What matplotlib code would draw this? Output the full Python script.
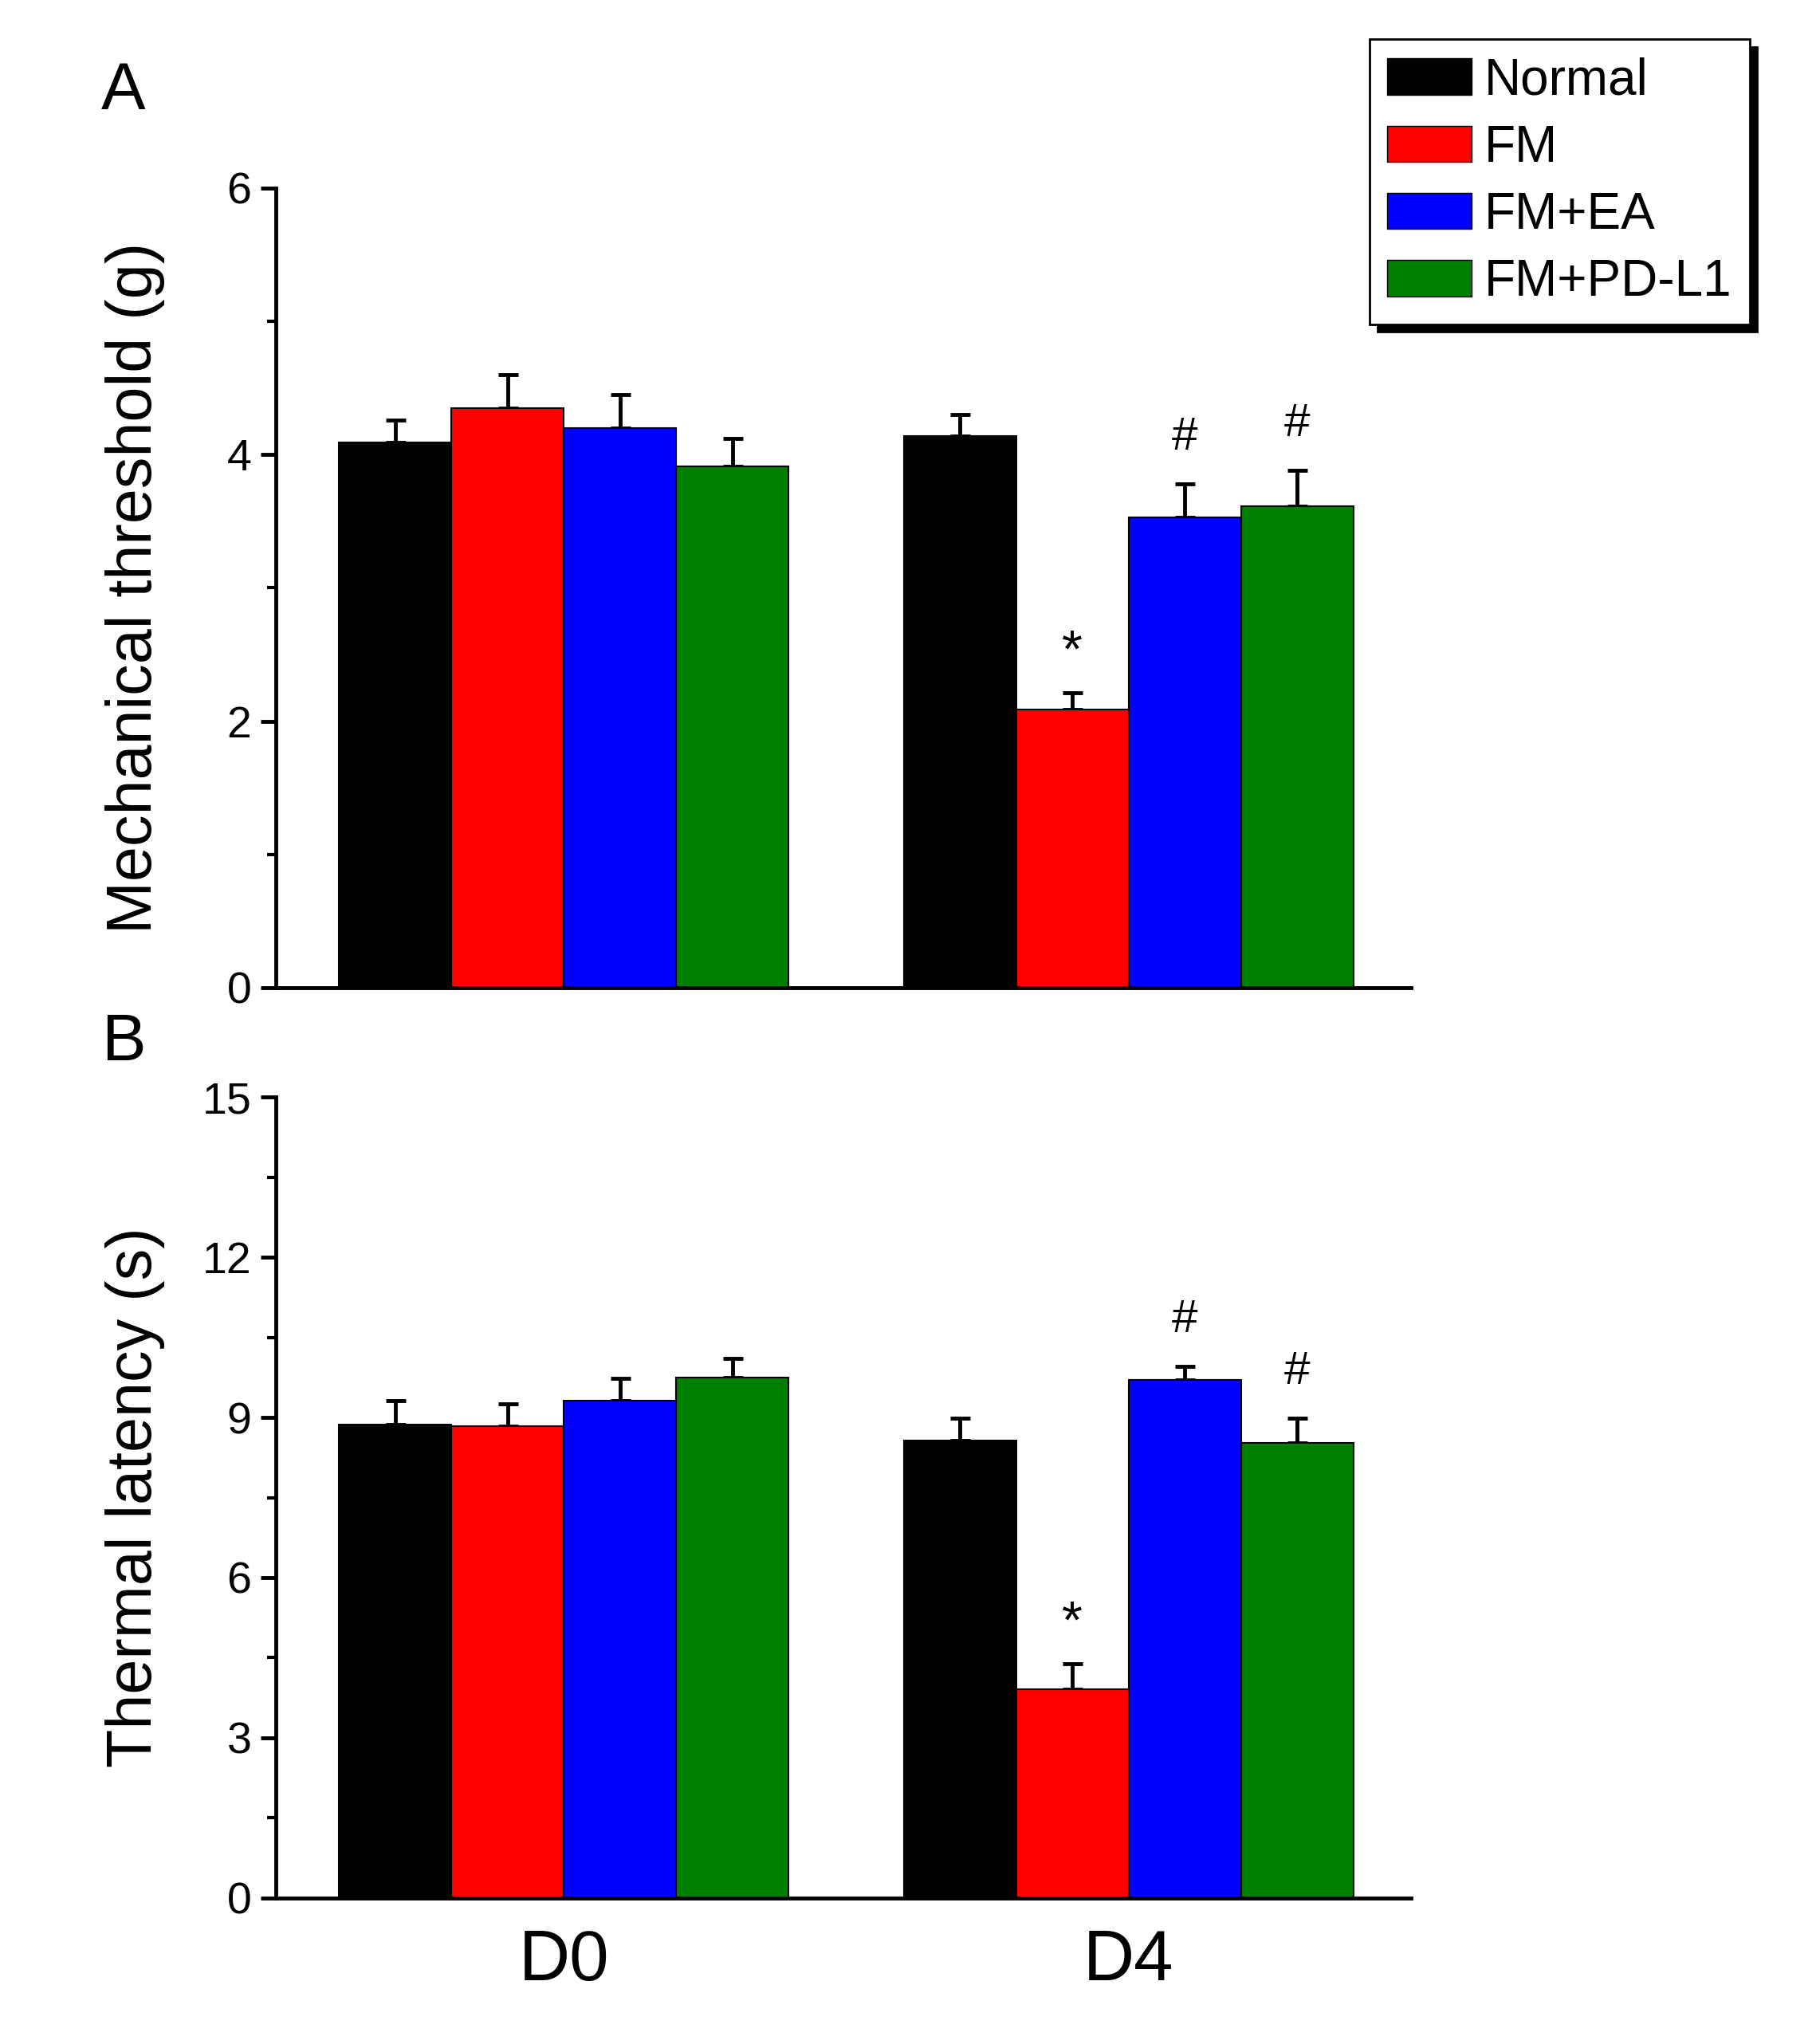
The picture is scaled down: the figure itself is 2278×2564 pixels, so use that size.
import matplotlib.pyplot as plt
import numpy as np
from matplotlib.patches import Patch

groups = ['Normal', 'FM', 'FM+EA', 'FM+PD-L1']
colors = ['#000000', '#ff0000', '#0000ff', '#007f00']
days = ['D0', 'D4']

# panel A: mechanical threshold (g), rows = days, cols = groups
mech_mean = [[4.09, 4.35, 4.20, 3.91],
             [4.14, 2.09, 3.53, 3.61]]
mech_err = [[0.17, 0.25, 0.25, 0.21],
            [0.16, 0.12, 0.25, 0.27]]
mech_marks = [['', '', '', ''], ['', '*', '#', '#']]

# panel B: thermal latency (s)
therm_mean = [[8.86, 8.83, 9.32, 9.75],
              [8.57, 3.91, 9.70, 8.53]]
therm_err = [[0.45, 0.42, 0.42, 0.35],
             [0.41, 0.47, 0.25, 0.45]]
therm_marks = [['', '', '', ''], ['', '*', '#', '#']]

plt.rcParams['font.family'] = ['Liberation Sans', 'DejaVu Sans']

fig = plt.figure(figsize=(22.78, 25.64), dpi=100)
axA = fig.add_axes([0.1519, 0.5168, 0.6250, 0.3912])
axB = fig.add_axes([0.1519, 0.0715, 0.6250, 0.3917])

w = 0.199
x = np.arange(len(days))


def panel(ax, mean, err, marks, ymax, major, minor, ylabel):
    mean = np.array(mean)
    err = np.array(err)
    for j in range(len(groups)):
        xs = x + (j - 1.5) * w
        ax.bar(xs, mean[:, j], w, color=colors[j], edgecolor='black', linewidth=1.5, zorder=2)
        ax.errorbar(xs, mean[:, j], yerr=[np.zeros(len(days)), err[:, j]], fmt='none',
                    ecolor='black', elinewidth=3.5, capsize=9, capthick=3.5, zorder=1)
        for i in range(len(days)):
            m = marks[i][j]
            if m:
                off = 0.05 if m == '*' else 0.058
                ax.text(xs[i], mean[i, j] + err[i, j] + off * ymax, m, ha='center', va='center',
                        fontsize=48 if m == '*' else 42)
    ax.set_xlim(-0.51, 1.50)
    ax.set_ylim(0, ymax)
    ax.set_yticks(np.arange(0, ymax + 0.01, major))
    ax.set_yticks(np.arange(minor, ymax, major), minor=True)
    ax.set_yticklabels([f'{v:g}' for v in np.arange(0, ymax + 0.01, major)], fontsize=40)
    ax.set_xticks([])
    for s in ['top', 'right']:
        ax.spines[s].set_visible(False)
    for s in ['left', 'bottom']:
        ax.spines[s].set_linewidth(3.5)
    ax.tick_params(axis='y', which='major', length=14, width=3.5, direction='out', pad=8)
    ax.tick_params(axis='y', which='minor', length=8, width=3, direction='out')
    ax.set_ylabel(ylabel, fontsize=57)
    ax.yaxis.set_label_coords(-0.098, 0.5)


panel(axA, mech_mean, mech_err, mech_marks, 6, 2, 1, 'Mechanical threshold (g)')
panel(axB, therm_mean, therm_err, therm_marks, 15, 3, 1.5, 'Thermal latency (s)')

for xi, d in zip(x, days):
    axB.text(xi, -0.08, d, transform=axB.get_xaxis_transform(), ha='center', va='center',
             fontsize=64)

fig.text(0.068, 0.955, 'A', fontsize=60, ha='center', va='center')
fig.text(0.068, 0.49, 'B', fontsize=60, ha='center', va='center')

handles = [Patch(facecolor=c, edgecolor='black', linewidth=1) for c in colors]
leg = fig.legend(handles, groups, loc='upper left', bbox_to_anchor=(1718 / 2278, 1 - 49 / 2564),
                 fontsize=46, frameon=True, fancybox=False, borderaxespad=0,
                 edgecolor='black', framealpha=1, handlelength=1.65, handleheight=0.72,
                 labelspacing=0.38, handletextpad=0.25, borderpad=0.35,
                 shadow={'ox': 7, 'oy': -7, 'color': 'black', 'alpha': 1})
leg.get_frame().set_linewidth(2)

fig.savefig('out.png', dpi=100, facecolor='white')
